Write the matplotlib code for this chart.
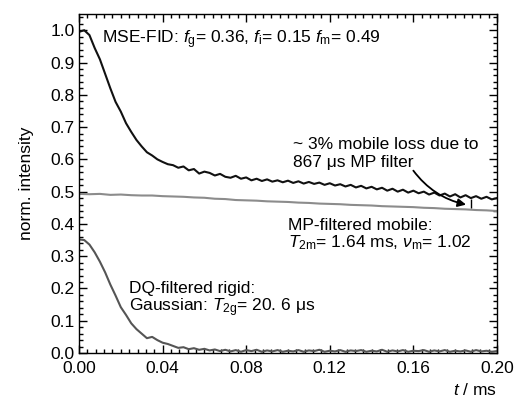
import matplotlib
matplotlib.use('Agg')
import matplotlib.pyplot as plt
import numpy as np
from matplotlib.ticker import MultipleLocator

plt.rcParams['font.family'] = ['Liberation Sans', 'DejaVu Sans']
plt.rcParams['mathtext.fontset'] = 'custom'
plt.rcParams['mathtext.rm'] = 'Liberation Sans'
plt.rcParams['mathtext.it'] = 'Liberation Sans:italic'
plt.rcParams['mathtext.bf'] = 'Liberation Sans:bold'

# MSE-FID (black), sampled every 0.0025 ms
mse_fid = [0.995, 1.000, 0.985, 0.945, 0.910, 0.865, 0.820, 0.778, 0.748, 0.712,
           0.685, 0.660, 0.640, 0.622, 0.612, 0.600, 0.592, 0.585, 0.582, 0.574,
           0.578, 0.566, 0.570, 0.556, 0.562, 0.558, 0.550, 0.555, 0.546, 0.543,
           0.549, 0.540, 0.544, 0.535, 0.540, 0.533, 0.538, 0.531, 0.535, 0.529,
           0.534, 0.527, 0.532, 0.525, 0.530, 0.524, 0.528, 0.521, 0.526, 0.519,
           0.523, 0.516, 0.521, 0.513, 0.518, 0.510, 0.515, 0.507, 0.512, 0.503,
           0.509, 0.500, 0.506, 0.497, 0.503, 0.495, 0.500, 0.491, 0.497, 0.488,
           0.494, 0.485, 0.492, 0.482, 0.489, 0.480, 0.486, 0.478, 0.484, 0.476,
           0.480]

# MP-filtered mobile (light grey), sampled every 0.005 ms
mp_mobile = [0.493, 0.492, 0.493, 0.490, 0.491, 0.489, 0.488, 0.488, 0.486, 0.485,
             0.484, 0.482, 0.481, 0.478, 0.477, 0.474, 0.473, 0.472, 0.470, 0.469,
             0.468, 0.466, 0.465, 0.463, 0.462, 0.461, 0.459, 0.458, 0.457, 0.455,
             0.454, 0.453, 0.452, 0.450, 0.449, 0.447, 0.446, 0.445, 0.443, 0.442,
             0.440]

# DQ-filtered rigid (dark grey), sampled every 0.0025 ms
dq_rigid = [0.352, 0.350, 0.336, 0.312, 0.283, 0.250, 0.212, 0.178, 0.142, 0.118,
            0.092, 0.074, 0.060, 0.046, 0.050, 0.040, 0.032, 0.028, 0.022, 0.016,
            0.018, 0.012, 0.015, 0.010, 0.013, 0.008, 0.011, 0.006, 0.010, 0.005,
            0.009, 0.004, 0.009, 0.006, 0.010, 0.004, 0.008, 0.005, 0.009, 0.004,
            0.007, 0.005, 0.009, 0.004, 0.008, 0.006, 0.010, 0.004, 0.007, 0.005,
            0.009, 0.004, 0.008, 0.006, 0.009, 0.004, 0.007, 0.005, 0.010, 0.004,
            0.008, 0.005, 0.009, 0.004, 0.007, 0.006, 0.009, 0.004, 0.008, 0.005,
            0.009, 0.004, 0.007, 0.005, 0.008, 0.004, 0.009, 0.005, 0.007, 0.004,
            0.006]

t_mse = np.linspace(0, 0.2, len(mse_fid))
t_mp = np.linspace(0, 0.2, len(mp_mobile))
t_dq = np.linspace(0, 0.2, len(dq_rigid))

# MP filter marker bar and arrow
bar_t = 0.1875
bar_lo, bar_hi = 0.448, 0.476
arrow_from = (0.1592, 0.572)
arrow_to = (0.1865, 0.458)

fig = plt.figure(figsize=(5.15, 4.03), dpi=100)
ax = fig.add_axes([0.1534, 0.124, 0.8116, 0.841])

ax.plot(t_mp, mp_mobile, color='#8c8c8c', lw=1.5)
ax.plot(t_dq, dq_rigid, color='#555555', lw=1.5)
ax.plot(t_mse, mse_fid, color='#111111', lw=1.5)

ax.vlines(bar_t, bar_lo, bar_hi, color='black', lw=1.0)
ax.annotate('', xy=arrow_to, xytext=arrow_from,
            arrowprops=dict(arrowstyle='-|>', color='black', lw=1.3,
                            mutation_scale=12,
                            connectionstyle='arc3,rad=0.2'))

fs = 12.5
ax.text(0.0109, 0.961, r'MSE-FID: $f_{\rm g}$= 0.36, $f_{\rm i}$= 0.15 $f_{\rm m}$= 0.49',
        fontsize=fs, va='baseline')
ax.text(0.1026, 0.631, '~ 3% mobile loss due to', fontsize=fs, va='baseline')
ax.text(0.1026, 0.575, '867 \u03bcs MP filter', fontsize=fs, va='baseline')
ax.text(0.1002, 0.381, 'MP-filtered mobile:', fontsize=fs, va='baseline')
ax.text(0.1002, 0.329, r'$T_{\rm 2m}$= 1.64 ms, $\nu_{\rm m}$= 1.02', fontsize=fs, va='baseline')
ax.text(0.0241, 0.187, 'DQ-filtered rigid:', fontsize=fs, va='baseline')
ax.text(0.0241, 0.128, 'Gaussian: $T_{\\rm 2g}$= 20. 6 \u03bcs', fontsize=fs, va='baseline')

ax.set_xlim(0, 0.2)
ax.set_ylim(0, 1.05)
ax.xaxis.set_major_locator(MultipleLocator(0.04))
ax.xaxis.set_minor_locator(MultipleLocator(0.004))
ax.yaxis.set_major_locator(MultipleLocator(0.1))
ax.yaxis.set_minor_locator(MultipleLocator(0.02))
ax.xaxis.set_major_formatter(plt.FormatStrFormatter('%.2f'))
ax.yaxis.set_major_formatter(plt.FormatStrFormatter('%.1f'))
ax.tick_params(which='both', direction='in', top=True, right=True, labelsize=12.5)
ax.tick_params(which='major', length=6, width=1)
ax.tick_params(which='minor', length=3, width=1)
ax.tick_params(axis='x', which='major', pad=6)
ax.tick_params(axis='y', which='major', pad=3)
for s in ax.spines.values():
    s.set_linewidth(1.0)

ax.set_xlabel(r'$t$ / ms', fontsize=12.5, loc='right', labelpad=4)
ax.set_ylabel('norm. intensity', fontsize=12.5, labelpad=12)

fig.savefig('out.png', dpi=100)
